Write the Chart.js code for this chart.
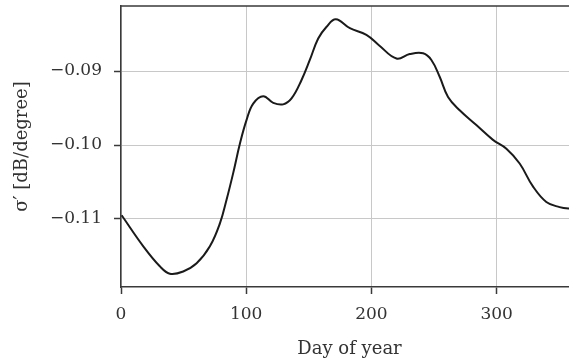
<!doctype html>
<html>
<head>
	<title>Sigma prime by day of year</title>
	<script src="https://cdn.jsdelivr.net/npm/chart.js@4/dist/chart.umd.min.js"></script>
	<style>
		html, body { margin: 0; padding: 0; overflow: hidden; background: #fff; }
		#holder { width: 569px; height: 363px; overflow: hidden; }
	</style>
</head>

<body>
	<div id="holder">
		<canvas id="chart-area" width="590" height="363"></canvas>
	</div>
	<script>
		// values
		var days = [0.5, 17.8, 31, 39, 49.7, 60.4, 71, 79, 84.3, 89.6, 95, 100.3, 105.6, 113.6,
			121.6, 129.5, 136.2, 144.2, 150.8, 157.5, 164.2, 171.6, 182.8, 196, 206,
			220, 230.6, 241.3, 247.9, 254.6, 261.2, 270.5, 283.8, 297.1, 307.8, 318.4,
			329, 339.7, 350.3, 357.5, 365];
		var sigma = [-0.1095, -0.1137, -0.1164, -0.1174, -0.1171, -0.1160, -0.1137, -0.1106, -0.1074, -0.1038,
			-0.0998, -0.0966, -0.0944, -0.0934, -0.0943, -0.0945, -0.0937, -0.0912, -0.0885, -0.0856,
			-0.0840, -0.0830, -0.0842, -0.0851, -0.0865, -0.0883, -0.0877, -0.0876, -0.0885, -0.0908,
			-0.0935, -0.0953, -0.0973, -0.0993, -0.1005, -0.1025, -0.1056, -0.1077, -0.1084, -0.1086,
			-0.1086];
		var xTicks = [0, 100, 200, 300];
		var yTicks = [-0.11, -0.10, -0.09];

		var serif = '"DejaVu Serif", "Liberation Serif", serif';
		var spine = '#3a3a3a';

		var points = days.map(function(d, i) {
			return { x: d, y: sigma[i] };
		});

		// top and right spines
		var frame = {
			id: 'frame',
			afterDraw: function(chart) {
				var a = chart.chartArea;
				var ctx = chart.ctx;
				ctx.save();
				ctx.strokeStyle = spine;
				ctx.lineWidth = 1.5;
				ctx.beginPath();
				ctx.moveTo(a.left, a.top);
				ctx.lineTo(a.right, a.top);
				ctx.lineTo(a.right, a.bottom);
				ctx.stroke();
				ctx.restore();
			}
		};

		var config = {
			type: 'line',
			data: {
				datasets: [{
					data: points,
					borderColor: '#1a1a1a',
					borderWidth: 2,
					pointRadius: 0,
					tension: 0.4,
					fill: false
				}]
			},
			options: {
				responsive: false,
				animation: false,
				layout: { padding: { top: 6, right: 12, left: 0, bottom: 0 } },
				plugins: { legend: { display: false }, tooltip: { enabled: false } },
				scales: {
					x: {
						type: 'linear',
						min: 0,
						max: 365,
						afterBuildTicks: function(scale) {
							scale.ticks = xTicks.map(function(v) { return { value: v }; });
						},
						afterFit: function(scale) {
							scale.height = 76;
							scale.paddingLeft = 0;
							scale.paddingRight = 0;
						},
						grid: { color: '#c8c8c8', lineWidth: 1, tickLength: 7, tickColor: spine, tickWidth: 1.5 },
						border: { display: true, color: spine, width: 1.5 },
						ticks: {
							color: '#333',
							padding: 10,
							maxRotation: 0,
							font: { family: serif, size: 17 },
							callback: function(v) { return String(v); }
						},
						title: {
							display: true,
							text: 'Day of year',
							color: '#333',
							padding: { top: 0, bottom: 3 },
							font: { family: serif, size: 18, lineHeight: 1.2 }
						}
					},
					y: {
						min: -0.1192,
						max: -0.0812,
						afterBuildTicks: function(scale) {
							scale.ticks = yTicks.map(function(v) { return { value: v }; });
						},
						afterFit: function(scale) {
							scale.width = 121;
							scale.paddingTop = 0;
							scale.paddingBottom = 0;
						},
						grid: { color: '#c8c8c8', lineWidth: 1, tickLength: 7, tickColor: spine, tickWidth: 1.5 },
						border: { display: true, color: spine, width: 1.5 },
						ticks: {
							color: '#333',
							padding: 12,
							font: { family: serif, size: 17 },
							callback: function(v) { return '\u2212' + Math.abs(v).toFixed(2); }
						},
						title: {
							display: true,
							text: 'σ′ [dB/degree]',
							color: '#333',
							padding: { top: 12, bottom: 0 },
							font: { family: serif, size: 18, lineHeight: 1.2 }
						}
					}
				}
			},
			plugins: [frame]
		};

		window.onload = function() {
			var ctx = document.getElementById('chart-area').getContext('2d');
			window.myLine = new Chart(ctx, config);
		};
	</script>
</body>

</html>
